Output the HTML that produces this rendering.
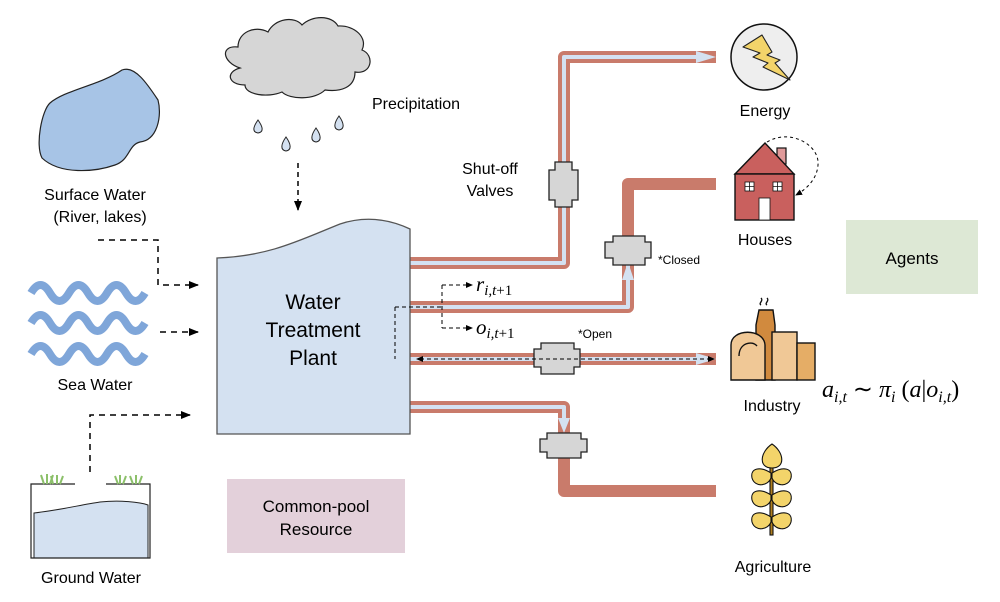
<!DOCTYPE html>
<html><head><meta charset="utf-8"><style>
html,body{margin:0;padding:0;background:#fff;}
svg{display:block;font-family:"Liberation Sans",sans-serif;}
.m{font-family:"Liberation Serif",serif;font-style:italic;}
</style></head><body>
<svg width="1000" height="602" viewBox="0 0 1000 602" xmlns="http://www.w3.org/2000/svg">
<defs>
<marker id="ah" markerWidth="10" markerHeight="8" refX="9" refY="4" orient="auto" markerUnits="userSpaceOnUse"><path d="M0,0 L10,4 L0,8 z" fill="#000"/></marker>
<marker id="ahs" markerWidth="7" markerHeight="6" refX="6" refY="3" orient="auto" markerUnits="userSpaceOnUse"><path d="M0,0 L7,3 L0,6 z" fill="#000"/></marker>
</defs>

<rect x="227" y="479" width="178" height="74" fill="#e3d0da"/>
<text x="316" y="512" font-size="17" text-anchor="middle">Common-pool</text>
<text x="316" y="535" font-size="17" text-anchor="middle">Resource</text>
<rect x="846" y="220" width="132" height="74" fill="#dde8d5"/>
<text x="912" y="264" font-size="17" text-anchor="middle">Agents</text>

<g fill="none" stroke-linejoin="round">
<path d="M410,263 H564 V57 H716" stroke="#c97b6b" stroke-width="12"/>
<path d="M410,263 H564 V57 H700" stroke="#d4e1f1" stroke-width="4"/>
<path d="M410,307 H628 V184 H716" stroke="#c97b6b" stroke-width="12"/>
<path d="M410,307 H628 V262" stroke="#d4e1f1" stroke-width="4"/>
<path d="M410,359 H716" stroke="#c97b6b" stroke-width="12"/>
<path d="M410,359 H700" stroke="#d4e1f1" stroke-width="4"/>
<path d="M410,407 H564 V491 H716" stroke="#c97b6b" stroke-width="12"/>
<path d="M410,407 H564 V425" stroke="#d4e1f1" stroke-width="4"/>
</g>
<path d="M696,51 L716,57 L696,63 z" fill="#d4e1f1"/>
<path d="M696,353 L716,359 L696,365 z" fill="#d4e1f1"/>
<path d="M622,280 L628,262 L634,280 z" fill="#d4e1f1"/>
<path d="M558,418 L564,433 L570,418 z" fill="#d4e1f1"/>

<g fill="#d6d6d6" stroke="#222" stroke-width="1.3">
<path d="M555,162 H572 V170 H578 V200 H572 V207 H555 V200 H549 V170 H555 z"/>
<path d="M613,236 H645 V242 H651 V258 H645 V265 H613 V258 H605 V242 H613 z"/>
<path d="M541,343 H574 V349 H580 V367 H574 V374 H541 V367 H534 V349 H541 z"/>
<path d="M547,433 H581 V439 H587 V452 H581 V458 H547 V452 H540 V439 H547 z"/>
</g>

<path d="M217,258 C270,256 300,240 340,224 C370,214 395,222 410,229 V434 H217 z" fill="#d4e1f1" stroke="#555" stroke-width="1.3"/>
<text x="313" y="309" font-size="21" text-anchor="middle">Water</text>
<text x="313" y="337" font-size="21" text-anchor="middle">Treatment</text>
<text x="313" y="365" font-size="21" text-anchor="middle">Plant</text>

<g fill="none" stroke="#000" stroke-width="1" stroke-dasharray="4,3">
<path d="M395,307 H442"/>
<path d="M442,285 V328"/>
<path d="M442,285 H472" marker-end="url(#ahs)"/>
<path d="M442,328 H472" marker-end="url(#ahs)"/>
<path d="M395,307 V359"/>
<path d="M420,359 H714" marker-end="url(#ahs)"/>
</g>
<path d="M416,359 L423,356 L423,362 z" fill="#000"/>
<text class="m" x="476" y="291" font-size="21">r<tspan font-size="15" dy="4">i,t</tspan><tspan font-size="15" font-style="normal">+1</tspan></text>
<text class="m" x="476" y="334" font-size="21">o<tspan font-size="15" dy="4">i,t</tspan><tspan font-size="15" font-style="normal">+1</tspan></text>
<text x="658" y="264" font-size="12">*Closed</text>
<text x="578" y="338" font-size="12">*Open</text>
<text x="490" y="174" font-size="16" text-anchor="middle">Shut-off</text>
<text x="490" y="196" font-size="16" text-anchor="middle">Valves</text>

<path d="M240,68 C222,62 220,45 238,47 C238,32 255,25 268,32 C275,18 295,16 302,25 C312,15 332,15 338,26 C355,25 368,38 362,50 C375,55 372,75 355,72 C355,88 340,92 325,90 C315,100 290,100 282,92 C268,98 245,95 245,85 C228,85 225,72 240,68 z" fill="#d6d6d6" stroke="#222" stroke-width="1.2"/>
<g fill="#d4e1f1" stroke="#222" stroke-width="1">
<path d="M258,120 C253,127 252,132 258,133 C264,132 263,127 258,120 z"/>
<path d="M286,137 C281,144 280,150 286,151 C292,150 291,144 286,137 z"/>
<path d="M316,128 C311,135 310,141 316,142 C322,141 321,135 316,128 z"/>
<path d="M339,116 C334,123 333,129 339,130 C345,129 344,123 339,116 z"/>
</g>
<path d="M298,163 V210" stroke="#000" stroke-width="1.5" stroke-dasharray="5,4" marker-end="url(#ah)"/>
<text x="372" y="109" font-size="16">Precipitation</text>

<path d="M122,70 C135,65 148,85 158,100 C162,115 158,140 140,142 C128,145 130,160 115,165 C95,172 60,175 42,158 C35,145 42,110 50,103 C65,90 100,85 122,70 z" fill="#a7c4e6" stroke="#222" stroke-width="1.2"/>
<text x="95" y="200" font-size="16" text-anchor="middle">Surface Water</text>
<text x="100" y="222" font-size="16" text-anchor="middle">(River, lakes)</text>
<path d="M98,240 H158 V285 H198" fill="none" stroke="#000" stroke-width="1.5" stroke-dasharray="6,5" marker-end="url(#ah)"/>

<g fill="none" stroke="#7fa6d9" stroke-width="8">
<path d="M31,293 q9.5,-16 19,0 t19,0 t19,0 t19,0 t19,0 t19,0"/>
<path d="M31,323 q9.5,-16 19,0 t19,0 t19,0 t19,0 t19,0 t19,0"/>
<path d="M31,354 q9.5,-16 19,0 t19,0 t19,0 t19,0 t19,0 t19,0"/>
</g>
<text x="95" y="390" font-size="16" text-anchor="middle">Sea Water</text>
<path d="M160,332 H198" fill="none" stroke="#000" stroke-width="1.5" stroke-dasharray="6,5" marker-end="url(#ah)"/>

<path d="M34,513 C60,510 80,505 100,502 C120,500 140,502 148,505 V558 H34 z" fill="#d4e1f1" stroke="#222" stroke-width="1"/>
<path d="M75,484 H31 V558 H150 V484 H106" fill="none" stroke="#222" stroke-width="1.2"/>
<g stroke="#8cc06a" stroke-width="2" fill="none">
<path d="M44,484 l-3,-9 M47,484 l0,-10 M50,484 l3,-9 M53,484 l-2,-8 M57,484 l0,-9 M60,484 l3,-8"/>
<path d="M118,484 l-3,-8 M120,484 l0,-9 M123,484 l3,-8 M133,484 l-3,-8 M136,484 l0,-9 M139,484 l3,-8"/>
</g>
<path d="M90,472 V415 H190" fill="none" stroke="#000" stroke-width="1.5" stroke-dasharray="6,5" marker-end="url(#ah)"/>
<text x="91" y="583" font-size="16" text-anchor="middle">Ground Water</text>

<circle cx="764" cy="57" r="33" fill="#eee" stroke="#111" stroke-width="1.5"/>
<path d="M743,47 L762,35 L772,52 L767,55 L780,60 L775,63 L790,80 L763,67 L768,63 L753,57 L760,53 z" fill="#f3d46a" stroke="#222" stroke-width="1.1" stroke-linejoin="round"/>
<text x="765" y="116" font-size="16" text-anchor="middle">Energy</text>

<rect x="777" y="148" width="9" height="16" fill="#e09a9a" stroke="#111" stroke-width="1.2"/>
<path d="M735,174 L765,143 L794,174 z" fill="#c9605e" stroke="#111" stroke-width="1.4"/>
<rect x="735" y="174" width="59" height="46" fill="#c9605e" stroke="#111" stroke-width="1.4"/>
<g fill="#fff" stroke="#111" stroke-width="0.8">
<rect x="745" y="182" width="9" height="9"/><rect x="773" y="182" width="9" height="9"/>
<rect x="759" y="198" width="11" height="22"/>
</g>
<path d="M749.5,182 V191 M745,186.5 H754 M777.5,182 V191 M773,186.5 H782" stroke="#111" stroke-width="0.8"/>
<path d="M767,142 C790,128 820,145 818,165 C817,180 805,190 796,195" fill="none" stroke="#000" stroke-width="1" stroke-dasharray="3,3" marker-end="url(#ahs)"/>
<text x="765" y="245" font-size="16" text-anchor="middle">Houses</text>

<g stroke="#111" stroke-width="1.4">
<path d="M756,380 V325 L759,310 H773 L775,325 V380 z" fill="#d18a3e"/>
<rect x="772" y="332" width="25" height="48" fill="#f0c896"/>
<rect x="797" y="343" width="18" height="37" fill="#e5ad66"/>
<path d="M731,380 V345 C731,328 764,328 765,345 V380 z" fill="#f0c896"/>
<path d="M739,356 C739,343 752,340 757,346" fill="none"/>
</g>
<path d="M761,305 c-3,-2 3,-4 0,-7 M767,305 c-3,-2 3,-4 0,-7" fill="none" stroke="#111" stroke-width="1.4"/>
<text x="772" y="411" font-size="16" text-anchor="middle">Industry</text>
<text class="m" x="822" y="397" font-size="24">a<tspan font-size="16" dy="5">i,t</tspan><tspan dy="-5" font-style="normal"> ∼ </tspan>π<tspan font-size="16" dy="5">i</tspan><tspan dy="-5" font-style="normal"> (</tspan>a<tspan font-style="normal">|</tspan>o<tspan font-size="16" dy="5">i,t</tspan><tspan dy="-5" font-style="normal">)</tspan></text>

<g stroke="#111" stroke-width="1.1" fill="#f3d46a">
<rect x="770" y="465" width="3" height="70" fill="#b08020"/>
<path d="M772,444 C760,452 758,468 772,468 C786,468 784,452 772,444 z"/>
<path d="M771,473 C760,466 750,468 752,478 C755,488 768,486 771,478 z"/>
<path d="M772,473 C783,466 793,468 791,478 C788,488 775,486 772,478 z"/>
<path d="M771,495 C760,488 750,490 752,500 C755,510 768,508 771,500 z"/>
<path d="M772,495 C783,488 793,490 791,500 C788,510 775,508 772,500 z"/>
<path d="M771,517 C760,510 750,512 752,522 C755,532 768,530 771,522 z"/>
<path d="M772,517 C783,510 793,512 791,522 C788,532 775,530 772,522 z"/>
</g>
<text x="773" y="572" font-size="16" text-anchor="middle">Agriculture</text>
</svg>
</body></html>
